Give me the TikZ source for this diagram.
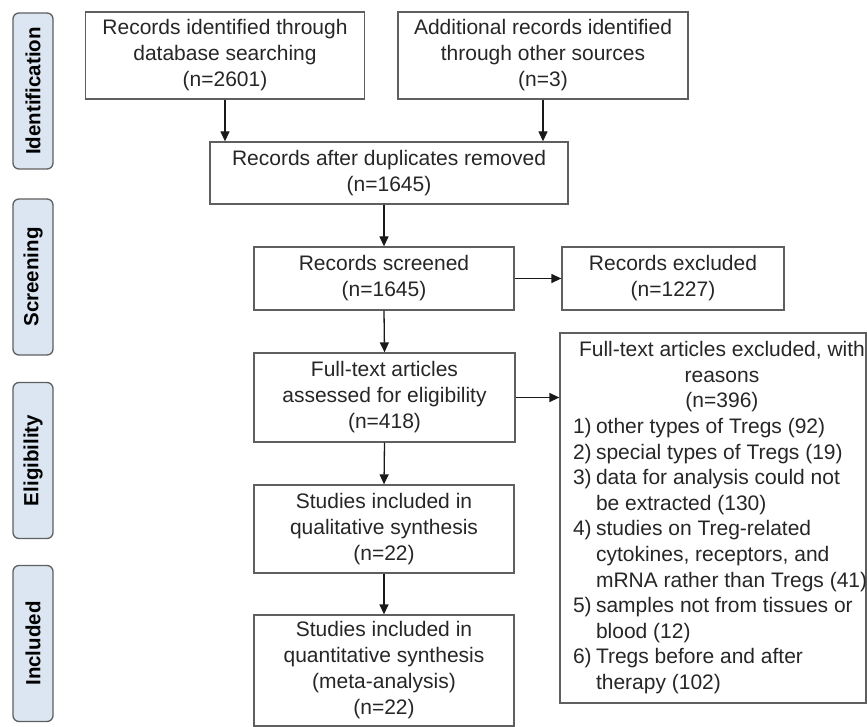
\documentclass[tikz,border=0pt]{standalone}
\usepackage{fontspec}
\setmainfont{Liberation Sans}
\usetikzlibrary{arrows.meta}

\definecolor{borde}{HTML}{5F5F5F}
\definecolor{texto}{HTML}{262626}
\definecolor{fondo}{HTML}{DCE6F2}

\tikzstyle{caja}= [rectangle,draw=borde,line width=1.3pt,text=texto,align=center,
    font=\fontsize{21}{26}\selectfont]
\tikzstyle{fase}= [rectangle,rounded corners=6pt,draw=borde,line width=1.3pt,fill=fondo,
    rotate=90,minimum width=156pt,minimum height=40pt,text=black,
    font=\fontsize{20.5}{24}\selectfont\bfseries]
\tikzstyle{flecha}= [draw=black!90,line width=1.3pt,-{Triangle[length=10pt,width=9pt]}]

\begin{document}
\begin{tikzpicture}[x=1pt,y=-1pt]
		\useasboundingbox (0,0) rectangle (867,727);

		% fases
		\node (ident) at (33,91) [fase] {Identification};
		\node (scrn) at (33,277) [fase] {Screening};
		\node (elig) at (33,460.5) [fase] {Eligibility};
		\node (incl) at (33,643.5) [fase] {Included};

		% identificacion
		\node (db) at (225,55.5) [caja,minimum width=279pt,minimum height=87pt]
			{Records identified through\\ database searching\\ (n=2601)};
		\node (other) at (543,55.5) [caja,minimum width=290pt,minimum height=87pt]
			{Additional records identified\\ through other sources\\ (n=3)};
		\node (dup) at (389,173) [caja,minimum width=358pt,minimum height=62pt]
			{Records after duplicates removed\\ (n=1645)};

		% cribado
		\node (scr) at (384,278.5) [caja,minimum width=260pt,minimum height=63pt]
			{Records screened\\ (n=1645)};
		\node (exc1) at (673,278.5) [caja,minimum width=222pt,minimum height=63pt]
			{Records excluded\\ (n=1227)};

		% elegibilidad
		\node (full) at (384.5,397.5) [caja,minimum width=261pt,minimum height=89pt]
			{Full-text articles\\ assessed for eligibility\\ (n=418)};
		\node (exc2) at (713,518) [caja,minimum width=306pt,minimum height=370pt,
			inner xsep=0pt,font=\fontsize{21}{25.6}\selectfont]
			{\makebox[306pt][l]{\hspace{13pt}%
			\begin{tabular}{@{}p{23pt}@{}l@{}}
			\multicolumn{2}{c}{Full-text articles excluded, with}\\
			\multicolumn{2}{c}{reasons}\\
			\multicolumn{2}{c}{(n=396)}\\
			1) & other types of Tregs (92)\\
			2) & special types of Tregs (19)\\
			3) & data for analysis could not\\
			   & be extracted (130)\\
			4) & studies on Treg-related\\
			   & cytokines, receptors, and\\
			   & mRNA rather than Tregs (41)\\
			5) & samples not from tissues or\\
			   & blood (12)\\
			6) & Tregs before and after\\
			   & therapy (102)
			\end{tabular}}};

		% incluidos
		\node (qual) at (384,529) [caja,minimum width=260pt,minimum height=88pt]
			{Studies included in\\ qualitative synthesis\\ (n=22)};
		\node (quant) at (384,670.5) [caja,minimum width=260pt,minimum height=111pt]
			{Studies included in\\ quantitative synthesis\\ (meta-analysis)\\ (n=22)};

		\path (db.south) edge[flecha] node {} (db.south |- dup.north);
		\path (other.south) edge[flecha] node {} (other.south |- dup.north);
		\path (dup.south -| scr.north) edge[flecha] node {} (scr.north);
		\path (scr.east) edge[flecha] node {} (exc1.west);
		\path (scr.south) edge[flecha] node {} (full.north);
		\path (full.east) edge[flecha] node {} (full.east -| exc2.west);
		\path (full.south) edge[flecha] node {} (qual.north);
		\path (qual.south) edge[flecha] node {} (quant.north);

	\end{tikzpicture}
\end{document}
